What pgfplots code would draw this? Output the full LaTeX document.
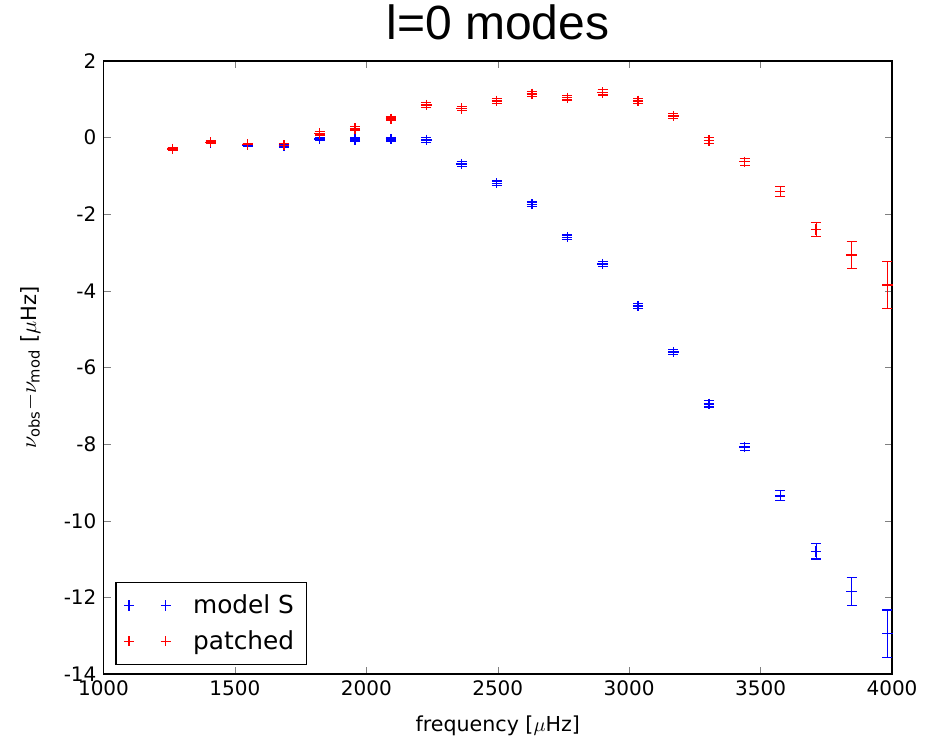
\documentclass[border=0pt]{standalone}
\def\pgfsysdriver{pgfsys-dvipdfmx.def}
\usepackage{pgfplots}
\pgfplotsset{compat=1.18}
\usepackage{fontspec}
\setmainfont{DejaVu Sans}
\newfontfamily\arialfont{Liberation Sans}

% model S: frequency, residual, error
\pgfplotstableread{
x y e
1263.2 -0.30 0.03
1407.5 -0.13 0.03
1548.3 -0.19 0.03
1686.6 -0.22 0.04
1822.2 -0.04 0.04
1957.4 -0.05 0.04
2093.5 -0.04 0.05
2228.8 -0.06 0.06
2362.8 -0.69 0.06
2496.2 -1.19 0.06
2629.7 -1.74 0.06
2764.2 -2.60 0.06
2899.0 -3.30 0.07
3033.8 -4.40 0.07
3168.6 -5.60 0.07
3303.5 -6.95 0.08
3438.9 -8.08 0.09
3574.9 -9.35 0.13
3710.7 -10.80 0.20
3846.6 -11.85 0.36
3982.2 -12.95 0.62
}\modelS

% patched: frequency, residual, error
\pgfplotstableread{
x y e
1263.2 -0.30 0.03
1407.5 -0.12 0.03
1548.3 -0.18 0.03
1686.6 -0.20 0.04
1822.2 0.11 0.04
1957.4 0.24 0.04
2093.5 0.49 0.05
2228.8 0.85 0.06
2362.8 0.76 0.06
2496.2 0.96 0.06
2629.7 1.14 0.06
2764.2 1.04 0.06
2899.0 1.18 0.07
3033.8 0.96 0.07
3168.6 0.56 0.07
3303.5 -0.08 0.08
3438.9 -0.63 0.09
3574.9 -1.40 0.13
3710.7 -2.40 0.19
3846.6 -3.06 0.35
3982.2 -3.85 0.61
}\patched

\begin{document}
\begin{tikzpicture}
\path[use as bounding box] (0,0) rectangle (467.5pt,371pt);
\begin{axis}[
  at={(51.75pt,34pt)}, anchor=south west,
  scale only axis,
  width=394.25pt, height=306.5pt,
  xmin=1000, xmax=4000, ymin=-14, ymax=2,
  xtick={1000,1500,...,4000},
  ytick={-14,-12,...,2},
  scaled x ticks=false,
  /pgf/number format/assume math mode=true,
  /pgf/number format/1000 sep={},
  tick label style={font=\fontsize{10}{12}\selectfont},
  major tick length=3.5pt,
  axis line style={line width=0.8pt},
  title={l=0 modes},
  title style={font=\arialfont\fontsize{24}{24}\selectfont, yshift=1pt},
  xlabel={frequency [$\mu$Hz]},
  xlabel style={font=\fontsize{10.3}{12}\selectfont, at={(axis description cs:0.5,0)}, anchor=base, yshift=-29pt},
  ylabel={$\nu_{\mathrm{obs}}{-}\nu_{\mathrm{mod}}$ [$\mu$Hz]},
  ylabel style={font=\fontsize{10.5}{12}\selectfont, at={(axis description cs:-0.093,0.5)}, anchor=center},
  legend style={at={(0.015,0.015)}, anchor=south west, draw=black, line width=0.6pt,
    font=\fontsize{12.4}{14}\selectfont, row sep=3pt, inner xsep=4pt, inner ysep=4pt},
  legend cell align=left,
  legend image code/.code={%
    \path[draw=none] (-2.6pt,0pt) -- (30pt,0pt);
    \path[#1] plot[mark=+] coordinates {(0pt,0pt)};
    \path[#1] plot[mark=+] coordinates {(18.3pt,0pt)};},
]
\addplot[blue, only marks, mark=+, mark size=2.6pt, line width=0.7pt,
  error bars/.cd, y dir=both, y explicit,
  error mark options={rotate=90, mark size=2.5pt, line width=0.6pt, blue}]
  table[x=x, y=y, y error=e] {\modelS};
\addlegendentry{model S}
\addplot[red, only marks, mark=+, mark size=2.6pt, line width=0.7pt,
  error bars/.cd, y dir=both, y explicit,
  error mark options={rotate=90, mark size=2.5pt, line width=0.6pt, red}]
  table[x=x, y=y, y error=e] {\patched};
\addlegendentry{patched}
\end{axis}
\end{tikzpicture}
\end{document}
